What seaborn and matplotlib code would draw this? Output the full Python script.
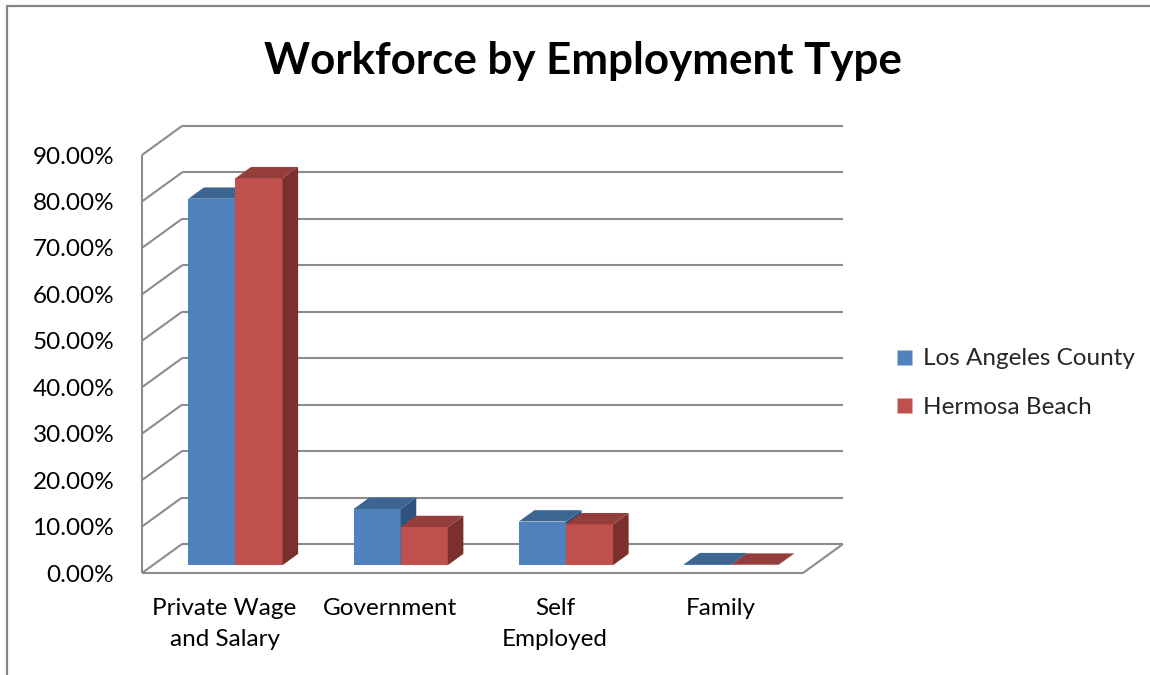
import matplotlib
matplotlib.use("Agg")
import matplotlib.pyplot as plt
import pandas as pd
import seaborn as sns
from matplotlib.colors import to_hex
from matplotlib.lines import Line2D
from matplotlib.patches import Polygon

# Share of the workforce by employment type (percent)
categories = ["Private Wage\nand Salary", "Government", "Self\nEmployed", "Family"]
series = ["Los Angeles County", "Hermosa Beach"]
la_county = [78.9, 12.1, 9.4, 0.2]
hermosa_beach = [83.3, 8.2, 8.8, 0.1]
y_ticks = [0, 10, 20, 30, 40, 50, 60, 70, 80, 90]

front_colors = ["#4F81BD", "#C0504D"]
top_colors = ["#3C6592", "#943D3A"]
side_colors = ["#30527F", "#7B302E"]
grid_color = "#8C8C8C"

sns.set_theme(style="white")
plt.rcParams["font.family"] = ["Lato", "DejaVu Sans"]

W, H = 1150, 675
fig = plt.figure(figsize=(W / 100, H / 100), dpi=100)

# front plane of the chart box in pixels
px_left, px_right = 142, 803
px_zero, px_top = 573, 155
ax = fig.add_axes([px_left / W, 1 - px_zero / H,
                   (px_right - px_left) / W, (px_zero - px_top) / H])

df = pd.DataFrame({
    "category": categories * 2,
    "series": [series[0]] * len(categories) + [series[1]] * len(categories),
    "value": la_county + hermosa_beach,
})

sns.barplot(data=df, x="category", y="value", hue="series",
            order=categories, hue_order=series, palette=front_colors,
            saturation=1, width=0.57, legend=False, ax=ax)

ax.set_xlim(-0.5, 3.5)
ax.set_ylim(0, 90)

# oblique depth of the chart box, in data units
x_unit = (px_right - px_left) / 4
y_unit = (px_zero - px_top) / 90
DX = 40 / x_unit
DY = 29 / y_unit
bar_front = 0.27     # depth at which bar front faces sit
bar_depth = 0.39     # bar thickness as a fraction of the box depth

line_kw = dict(color=grid_color, lw=1.5, clip_on=False, zorder=1,
               solid_capstyle="butt")
# back wall gridlines and side-wall diagonals
for v in y_ticks:
    ax.plot([-0.5 + DX, 3.5 + DX], [v + DY, v + DY], **line_kw)
    ax.plot([-0.5, -0.5 + DX], [v, v + DY], **line_kw)
# front left edge, floor front edge and floor right edge
ax.plot([-0.5, -0.5], [0, 90], **line_kw)
ax.plot([-0.5, 3.5], [0, 0], **line_kw)
ax.plot([3.5, 3.5 + DX], [0, DY], **line_kw)

# turn each flat bar into a box: shift the front face back and add top/side
front_hex = [c.lower() for c in front_colors]
for p in list(ax.patches):
    i = front_hex.index(to_hex(p.get_facecolor()).lower())
    xl, w, h = p.get_x(), p.get_width(), p.get_height()
    bx, by = bar_front * DX, bar_front * DY
    ddx, ddy = bar_depth * DX, bar_depth * DY
    p.set_x(xl + bx)
    p.set_y(by)
    p.set_edgecolor("none")
    p.set_zorder(3 + i)
    p.set_clip_on(False)
    xa, xb = xl + bx, xl + w + bx
    top = [(xa, h + by), (xb, h + by), (xb + ddx, h + by + ddy), (xa + ddx, h + by + ddy)]
    side = [(xb, by), (xb + ddx, by + ddy), (xb + ddx, h + by + ddy), (xb, h + by)]
    ax.add_patch(Polygon(side, closed=True, facecolor=side_colors[i],
                         edgecolor="none", zorder=3 + i, clip_on=False))
    ax.add_patch(Polygon(top, closed=True, facecolor=top_colors[i],
                         edgecolor="none", zorder=3 + i, clip_on=False))

for s in ax.spines.values():
    s.set_visible(False)
ax.grid(False)
ax.set_xlabel("")
ax.set_ylabel("")
ax.set_yticks(y_ticks)
ax.set_yticklabels([f"{v:.2f}%" for v in y_ticks])
ax.set_xticks(range(len(categories)))
ax.set_xticklabels(categories, linespacing=1.6)
label_size = 17.5
ax.tick_params(axis="y", length=0, pad=20, labelsize=label_size, labelcolor="black")
ax.tick_params(axis="x", length=0, pad=18, labelsize=label_size, labelcolor="black")

fig.text(583 / W, 1 - 74 / H, "Workforce by Employment Type",
         ha="center", va="baseline", fontsize=31.6, fontweight="bold", color="black")

handles = [Line2D([], [], ls="", marker="s", markersize=10.8,
                  markerfacecolor=c, markeredgecolor="none") for c in front_colors]
fig.legend(handles, series, loc="center left", frameon=False,
           bbox_to_anchor=(894 / W, 1 - 383 / H), fontsize=label_size,
           handlelength=0.85, handletextpad=0.35, labelspacing=1.15,
           borderaxespad=0, borderpad=0)

# outer chart frame
frame_kw = dict(color="#868686", lw=1.6, transform=fig.transFigure, clip_on=False)
fig.add_artist(Line2D([7 / W, 1], [1 - 6 / H, 1 - 6 / H], **frame_kw))
fig.add_artist(Line2D([7 / W, 7 / W], [1 - 6 / H, 0], **frame_kw))

fig.savefig("out.png", dpi=100, facecolor="white")
